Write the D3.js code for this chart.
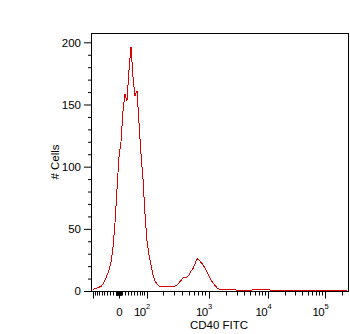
<!DOCTYPE html>
<html>
<head>
<meta charset="utf-8">
<script src="https://cdn.jsdelivr.net/npm/d3@7"></script>
<style>
  body { margin: 0; background: #fff; }
  svg { display: block; }
  .axis text { font-family: "Liberation Sans", Arial, sans-serif; font-size: 11.5px; fill: #000; }
  .axis line { stroke: #000; }
  .axis path { display: none; }
</style>
</head>
<body>
<svg id="chart" width="350" height="334"></svg>
<script>
// histogram counts, 128 display bins across the x range
const binCounts = [
  1.4, 1.8, 2.3, 3.0, 3.7, 5.5, 8.8, 12.5, 17, 23.5,
  35, 55, 82, 108, 120, 145, 158, 153, 178, 196,
  172, 157, 161, 135, 110, 90, 62, 40, 29, 21,
  13, 8, 5.5, 4, 3.5, 3.5, 3.5, 4, 3.8, 3.5,
  3.5, 4, 4.8, 6.5, 8.5, 10.5, 11, 11, 13, 16,
  18, 22, 26, 25, 23, 21, 18.5, 15, 12, 9,
  6.5, 4.5, 2.5, 1.6, 1.4, 1.4, 1.4, 1.4, 1.4, 1.4,
  1.4, 1.4, 0.3, 0.3, 0.3, 0.3, 0.3, 0.3, 0.3, 0.3,
  1.4, 1.4, 1.4, 1.4, 1.4, 1.4, 1.4, 1.4, 1.4, 0.3,
  0.3, 0.3, 0.3, 0.3, 0.3, 0.3, 0.3, 0.3, 0.3, 0.3,
  0.3, 0.3, 0.3, 0.3, 0.3, 0.3, 0.3, 0.3, 0.3, 0.3,
  0.3, 0.3, 0.3, 0.3, 0.3, 0.3, 0.3, 0.3, 0.3, 0.3,
  0.3, 0.3, 0.3, 0.3, 0.3, 0.3, 0.3, 0.3
];

const yMajorTicks = [0, 50, 100, 150, 200];
const yMinorTicks = [10, 20, 30, 40, 60, 70, 80, 90, 110, 120, 130, 140, 160, 170, 180, 190];

const xMajorTicks = [-100, 0, 100, 1000, 10000, 100000];
const xLabelValues = [0, 100, 1000, 10000, 100000];
const xLabelBase = ["0", "10", "10", "10", "10"];
const xLabelExp = ["", "2", "3", "4", "5"];
const xMinorTicks = [
  -90, -80, -70, -60, -50, -40, -30, -20, -10,
  -9, -8, -7, -6, -5, -4, -3, -2, -1,
  1, 2, 3, 4, 5, 6, 7, 8, 9,
  10, 20, 30, 40, 50, 60, 70, 80, 90,
  200, 300, 400, 500, 600, 700, 800, 900,
  2000, 3000, 4000, 5000, 6000, 7000, 8000, 9000,
  20000, 30000, 40000, 50000, 60000, 70000, 80000, 90000,
  200000
];

const xTitle = "CD40 FITC";
const yTitle = "# Cells";

const frame = { left: 91, top: 33, right: 348, bottom: 291 };
const svg = d3.select("#chart");

// biexponential-like display transform
const biex = (v) => Math.asinh(v / 85);
const xAnchors = [-100, 0, 100, 1000, 10000, 100000];
const xAnchorPx = [93, 118.5, 146.5, 208.5, 268, 325];
const x = d3.scaleLinear().domain(xAnchors.map(biex)).range(xAnchorPx);
const xv = (v) => x(biex(v));

const bins = d3.scaleLinear().domain([0, binCounts.length]).range([frame.left + 1, frame.right]);

const y = d3.scaleLinear().domain([0, 207.5]).range([frame.bottom, frame.top]);

// y axis
svg.append("g")
  .attr("class", "axis")
  .attr("transform", "translate(" + frame.left + ",0)")
  .call(d3.axisLeft(y).tickValues(yMinorTicks).tickSize(3).tickFormat(""));
svg.append("g")
  .attr("class", "axis")
  .attr("transform", "translate(" + frame.left + ",0)")
  .call(d3.axisLeft(y).tickValues(yMajorTicks).tickSize(7).tickPadding(3));

// x axis ticks (positions through the display transform)
const xg = svg.append("g").attr("class", "axis").attr("transform", "translate(0," + frame.bottom + ")");
xg.selectAll("line.minor")
  .data(xMinorTicks)
  .enter()
  .append("line")
  .attr("class", "minor")
  .attr("x1", (d) => Math.round(xv(d)) + 0.5)
  .attr("x2", (d) => Math.round(xv(d)) + 0.5)
  .attr("y1", 0.5)
  .attr("y2", 4.5);
xg.selectAll("line.major")
  .data(xMajorTicks)
  .enter()
  .append("line")
  .attr("class", "major")
  .attr("x1", (d) => Math.round(xv(d)) + 0.5)
  .attr("x2", (d) => Math.round(xv(d)) + 0.5)
  .attr("y1", 0.5)
  .attr("y2", 7.5);

const lab = xg.selectAll("g.lab")
  .data(xLabelValues)
  .enter()
  .append("g")
  .attr("class", "lab")
  .attr("transform", (d) => "translate(" + xv(d) + ",0)");
lab.append("text")
  .attr("y", 25)
  .attr("text-anchor", (d, i) => (xLabelExp[i] ? "end" : "middle"))
  .attr("dx", (d, i) => (xLabelExp[i] ? -1 : 1))
  .style("letter-spacing", (d, i) => (xLabelExp[i] ? "-0.6px" : null))
  .text((d, i) => xLabelBase[i]);
lab.append("text")
  .attr("x", -0.5)
  .attr("y", 18)
  .style("font-size", "7.5px")
  .text((d, i) => xLabelExp[i]);

// frame
svg.append("rect")
  .attr("x", frame.left + 0.5)
  .attr("y", frame.top + 0.5)
  .attr("width", frame.right - frame.left)
  .attr("height", frame.bottom - frame.top)
  .attr("fill", "none")
  .attr("stroke", "#000");

// histogram line
const line = d3.line()
  .x((d, i) => bins(i + 0.5))
  .y((d) => y(d));

svg.append("path")
  .datum(binCounts)
  .attr("d", line)
  .attr("fill", "none")
  .attr("stroke", "#dc0000")
  .attr("stroke-width", 1)
  .attr("shape-rendering", "crispEdges");

// titles
svg.append("text")
  .attr("x", 219)
  .attr("y", 329)
  .attr("text-anchor", "middle")
  .style("font-family", "Liberation Sans, Arial, sans-serif")
  .style("font-size", "11.5px")
  .text(xTitle);

svg.append("text")
  .attr("transform", "translate(59," + (frame.top + frame.bottom) / 2 + ") rotate(-90)")
  .attr("text-anchor", "middle")
  .style("font-family", "Liberation Sans, Arial, sans-serif")
  .style("font-size", "11.5px")
  .text(yTitle);
</script>
</body>
</html>
